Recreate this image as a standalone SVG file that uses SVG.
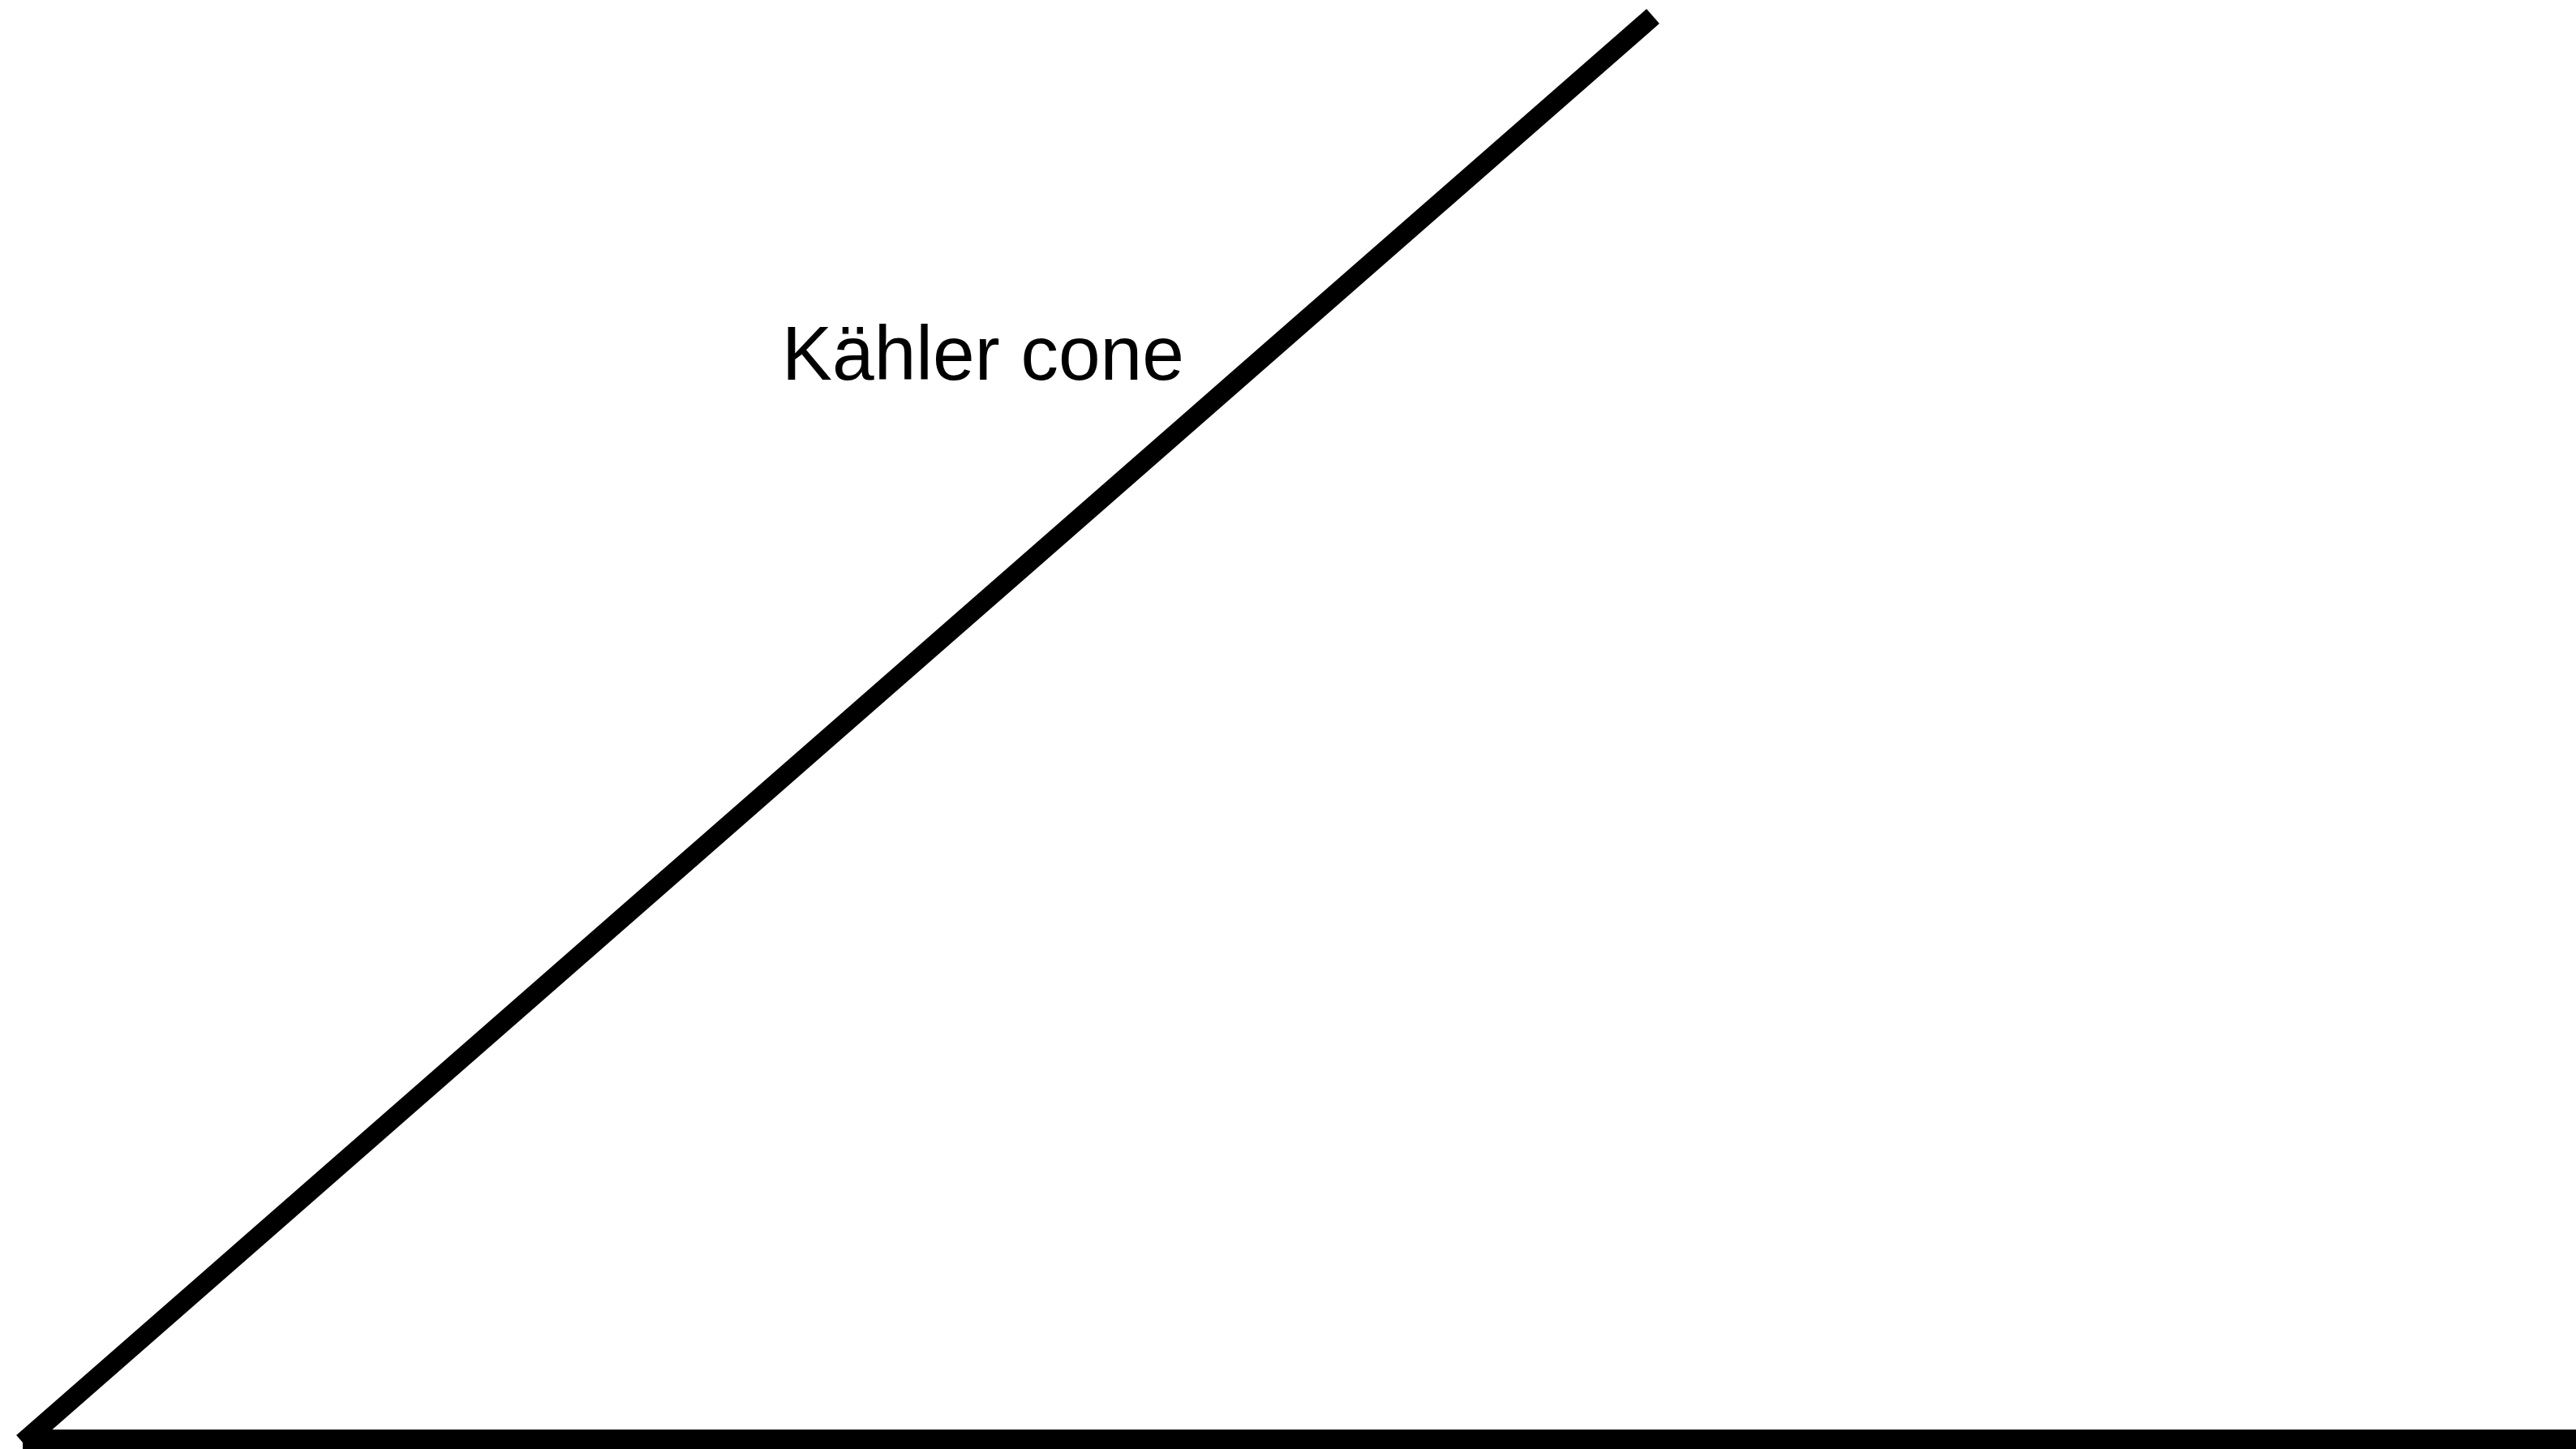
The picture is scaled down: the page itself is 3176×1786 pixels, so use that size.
<svg xmlns="http://www.w3.org/2000/svg" width="3176" height="1786" viewBox="0 0 3176 1786">
<style>
.edge{stroke:#000;stroke-width:24;fill:none;stroke-linecap:butt}
.lbl{font-family:"Liberation Sans",Arial,Helvetica,sans-serif;font-size:94px;fill:#000}
</style>
<rect width="3176" height="1786" fill="#fff"/>
<g id="connectors">
<line class="edge" x1="28" y1="1778" x2="2038" y2="20"/>
<line class="edge" x1="28" y1="1774" x2="3176" y2="1774"/>
</g>
<g id="label-kahler-cone">
<text class="lbl" x="964" y="468" textLength="496" lengthAdjust="spacingAndGlyphs">Kähler cone</text>
</g>
</svg>
